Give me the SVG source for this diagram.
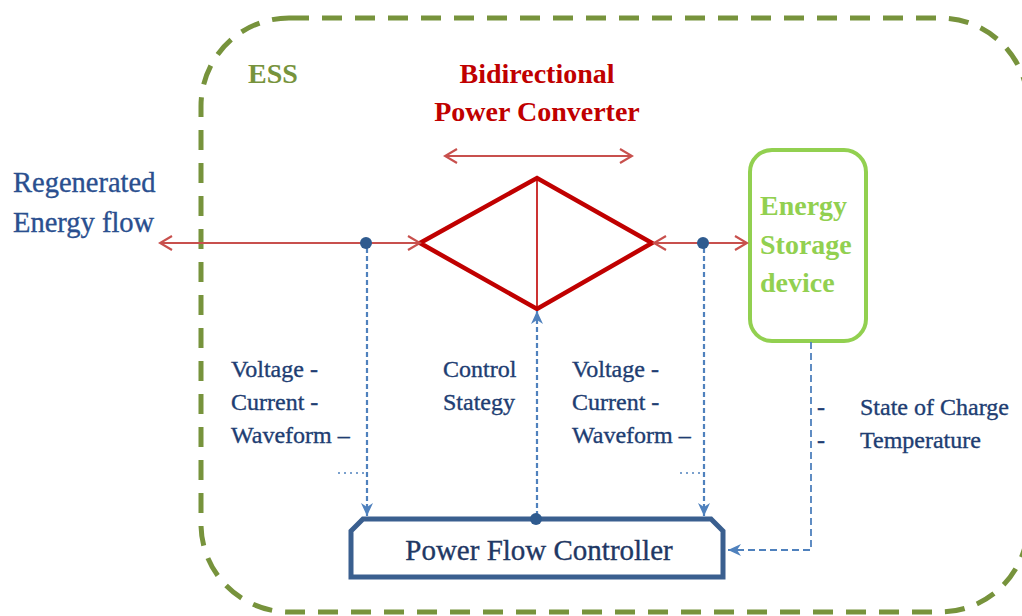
<svg xmlns="http://www.w3.org/2000/svg" width="1022" height="616" viewBox="0 0 1022 616">
<defs>
<style>
.serif{font-family:"Liberation Serif","Times New Roman",serif;stroke-width:0.35}
.lbl{font-family:"Liberation Serif","Times New Roman",serif;font-size:24px;fill:#203D72;stroke:#203D72;stroke-width:0.35}
.bold{font-family:"Liberation Serif","Times New Roman",serif;font-weight:bold;font-size:28px}
.red{stroke:#C8504D;stroke-width:2;fill:none}
.blue{stroke:#4F81BD;stroke-width:2.2;fill:none;stroke-dasharray:5 3}
.dot{fill:#2F5B8F}
</style>
<marker id="ro" markerUnits="userSpaceOnUse" markerWidth="16" markerHeight="16" viewBox="0 0 16 16" refX="14" refY="8" orient="auto-start-reverse">
<path d="M2,1 L14,8 L2,15" fill="none" stroke="#C8504D" stroke-width="2.2"/>
</marker>
<marker id="ba" markerUnits="userSpaceOnUse" markerWidth="14" markerHeight="14" viewBox="0 0 14 14" refX="13" refY="7" orient="auto">
<path d="M0,1 L13,7 L0,13 L4,7 z" fill="#4F81BD"/>
</marker>
</defs>
<rect width="1022" height="616" fill="#ffffff"/>

<g id="ess">
<rect x="201" y="18" width="827" height="594" rx="88" ry="88" fill="none" stroke="#77933C" stroke-width="5" stroke-dasharray="20 13"/>
<text x="248" y="83" class="bold" fill="#77933C">ESS</text>
</g>

<g id="converter">
<text x="537" y="83" class="bold" fill="#C00000" text-anchor="middle">Bidirectional</text>
<text x="537" y="121" class="bold" fill="#C00000" text-anchor="middle">Power Converter</text>
<polygon points="420,243 537,178 652,243 537,309" fill="none" stroke="#C00000" stroke-width="4.5"/>
<line x1="537" y1="178" x2="537" y2="309" stroke="#C00000" stroke-width="1.6"/>
</g>

<g id="storage">
<rect x="750" y="150" width="116" height="191" rx="22" ry="22" fill="none" stroke="#92D050" stroke-width="4"/>
<text class="bold" fill="#92D050"><tspan x="760" y="215">Energy</tspan><tspan x="760" y="254">Storage</tspan><tspan x="760" y="292">device</tspan></text>
</g>

<g id="controller">
<path d="M351,577 L351,531 L363,519 L711,519 L723,531 L723,577 Z" fill="#ffffff" stroke="#3A5F8F" stroke-width="5" stroke-linejoin="miter"/>
<text x="539" y="560" class="serif" font-size="29" fill="#1F3864" stroke="#1F3864" text-anchor="middle">Power Flow Controller</text>
</g>

<g id="source">
<text class="serif" font-size="28.5" fill="#2A4F8F" stroke="#2A4F8F"><tspan x="13" y="192">Regenerated</tspan><tspan x="13" y="232">Energy flow</tspan></text>
</g>

<g id="connectors">
<line x1="160" y1="243" x2="420" y2="243" class="red" marker-start="url(#ro)" marker-end="url(#ro)"/>
<line x1="654" y1="243" x2="747" y2="243" class="red" marker-start="url(#ro)" marker-end="url(#ro)"/>
<line x1="445" y1="156" x2="632" y2="156" class="red" marker-start="url(#ro)" marker-end="url(#ro)"/>
<line x1="367" y1="248" x2="367" y2="516" class="blue" marker-end="url(#ba)"/>
<line x1="704" y1="248" x2="704" y2="516" class="blue" marker-end="url(#ba)"/>
<line x1="537" y1="516" x2="537" y2="311" class="blue" marker-end="url(#ba)"/>
<polyline points="811,342 811,550 728,550" fill="none" stroke="#4F81BD" stroke-width="1.8" stroke-dasharray="7 4" marker-end="url(#ba)"/>
<line x1="338" y1="473" x2="364" y2="473" stroke="#4F81BD" stroke-width="1.6" stroke-dasharray="2 4"/>
<line x1="680" y1="473" x2="702" y2="473" stroke="#4F81BD" stroke-width="1.6" stroke-dasharray="2 4"/>
<circle cx="366" cy="243" r="6" class="dot"/>
<circle cx="703" cy="243" r="6" class="dot"/>
<circle cx="536" cy="519" r="6" class="dot"/>
</g>

<g id="labels">
<text class="lbl"><tspan x="231" y="377">Voltage -</tspan><tspan x="231" y="410">Current -</tspan><tspan x="231" y="443">Waveform –</tspan></text>
<text class="lbl"><tspan x="443" y="377">Control</tspan><tspan x="443" y="410">Stategy</tspan></text>
<text class="lbl"><tspan x="572" y="377">Voltage -</tspan><tspan x="572" y="410">Current -</tspan><tspan x="572" y="443">Waveform –</tspan></text>
<text class="lbl"><tspan x="817" y="415">-</tspan><tspan x="860" y="415">State of Charge</tspan><tspan x="817" y="448">-</tspan><tspan x="860" y="448">Temperature</tspan></text>
</g>
</svg>
